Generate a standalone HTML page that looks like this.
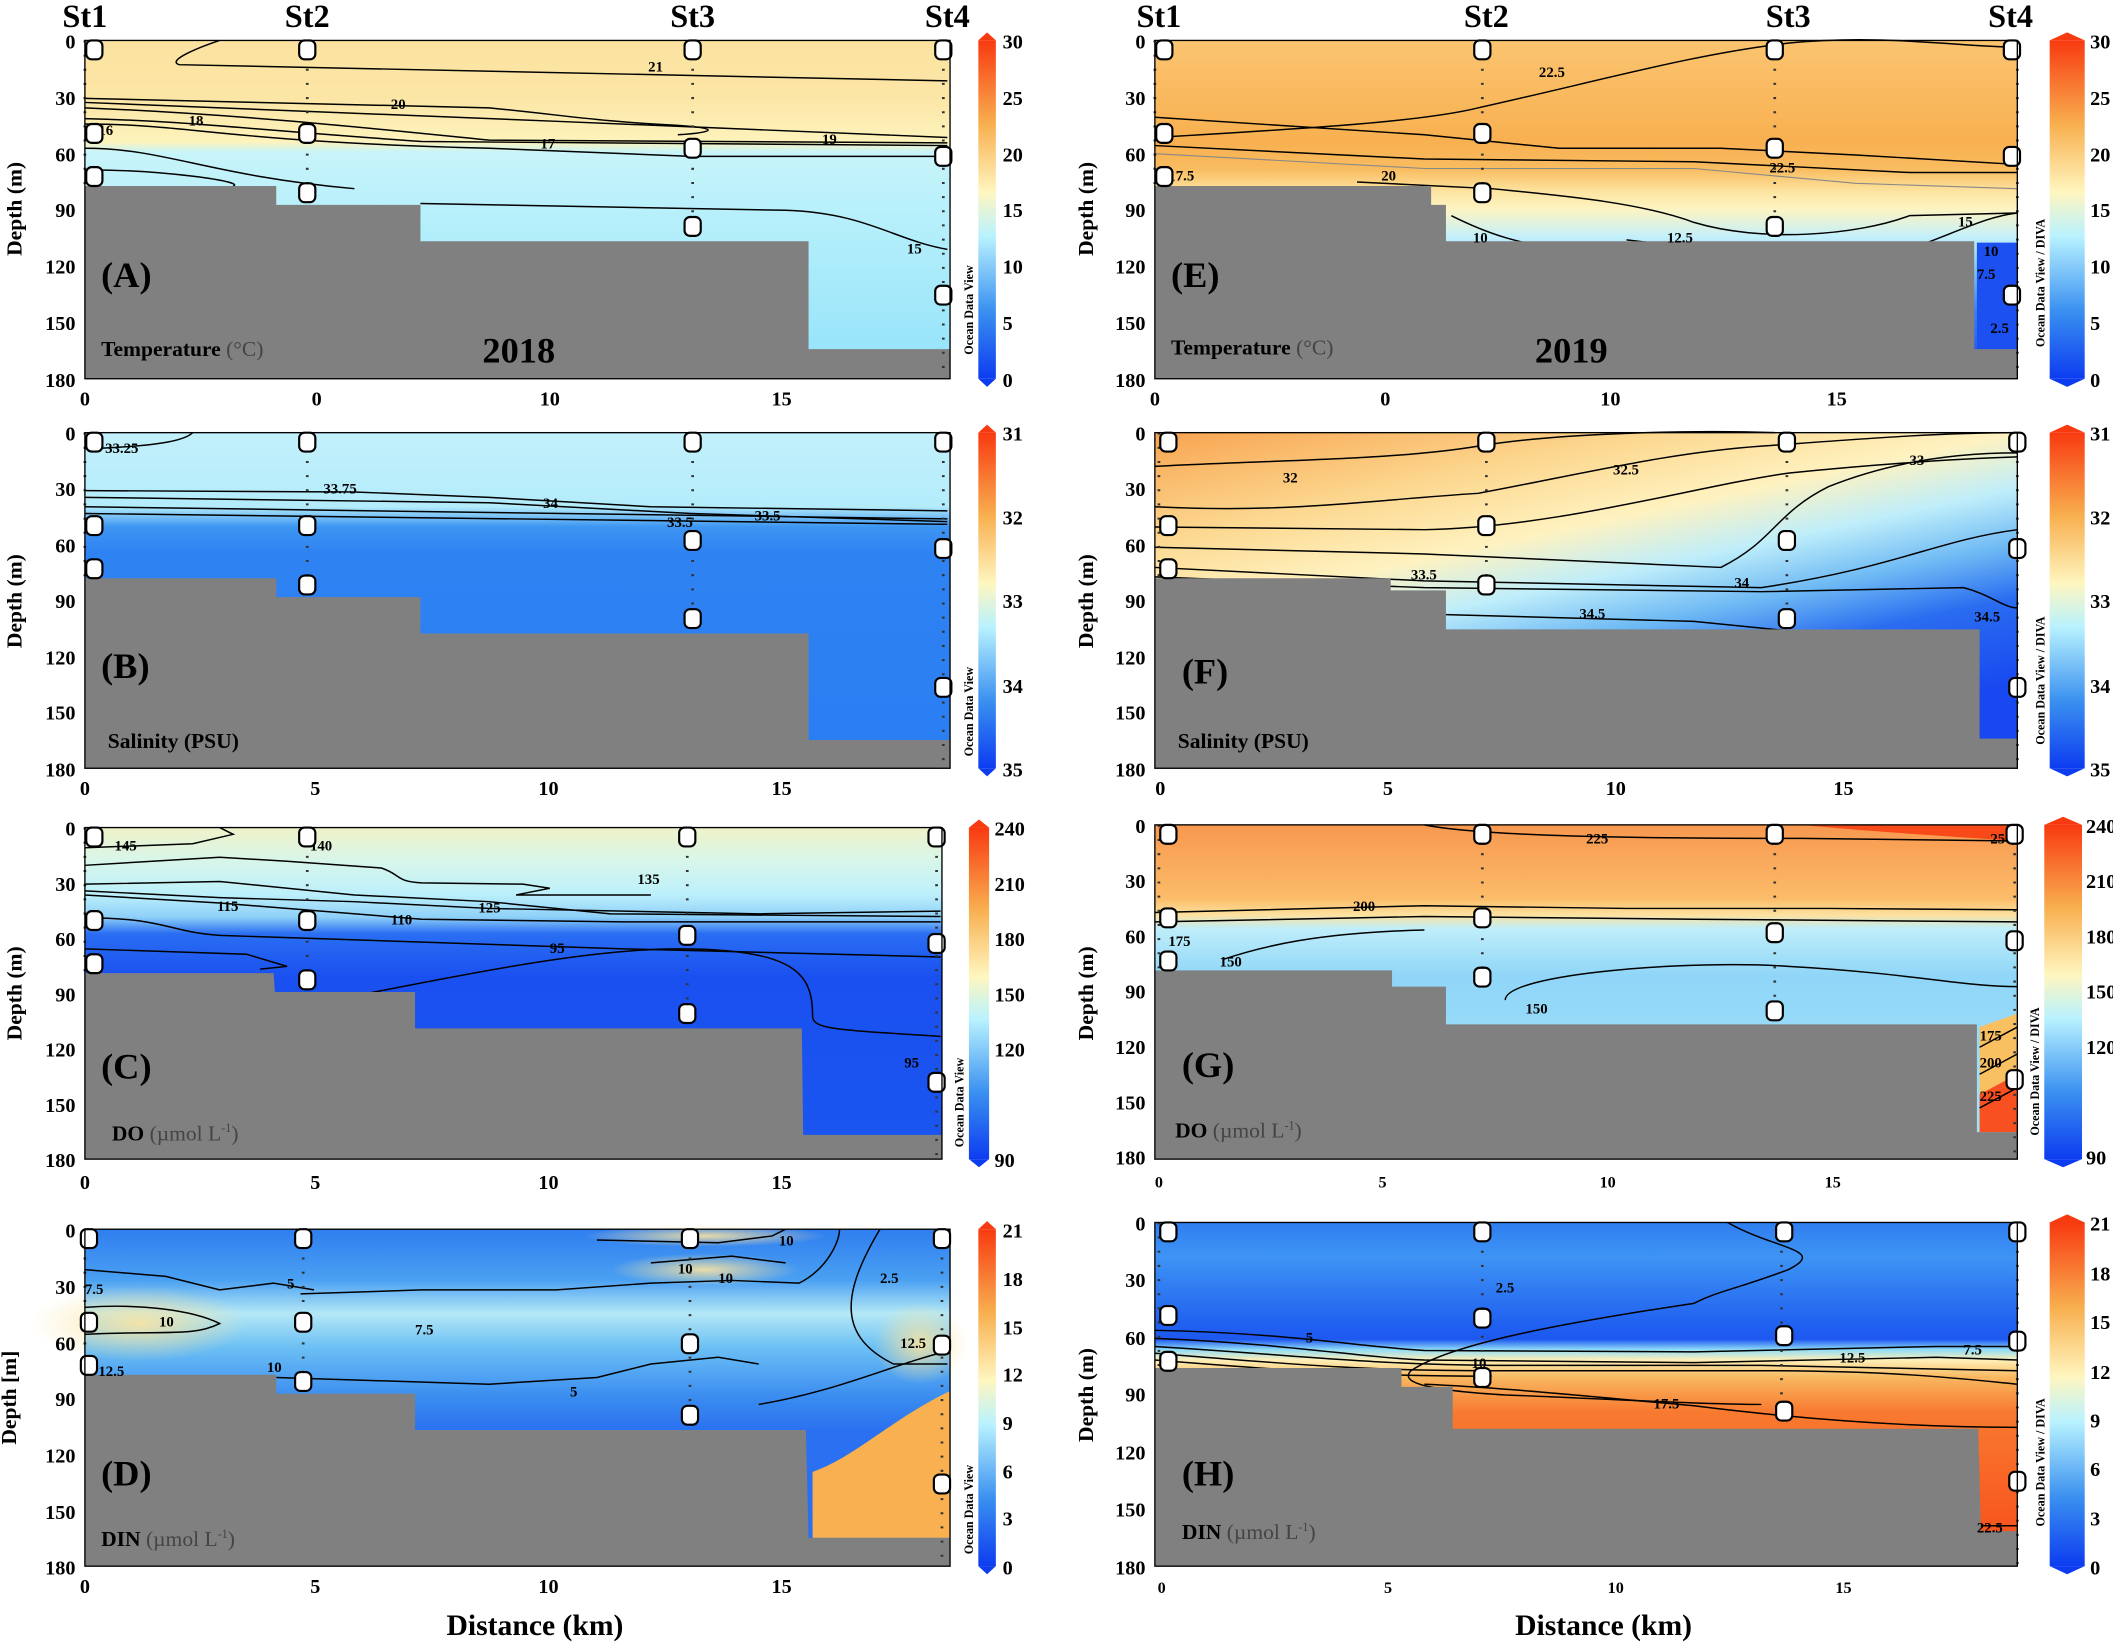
<!DOCTYPE html>
<html><head><meta charset="utf-8"><style>
html,body{margin:0;padding:0;background:#fff;}
svg{display:block;}
text{font-family:"Liberation Serif",serif;font-weight:bold;}
.t{font-size:15px;}
.st{font-size:24px;}
.pl{font-size:27px;}
.nm{font-size:16px;}
.ct{font-size:11px;}
.odv{font-size:9px;font-family:"Liberation Serif",serif;}
.c{fill:none;stroke:#000;stroke-width:1.1;}
.m{fill:#fff;stroke:#000;stroke-width:1.6;}
.d{stroke:#333;stroke-width:2;stroke-dasharray:1.5 9;}
.g{fill:#808080;}
</style></head><body>
<svg width="2113" height="1643" viewBox="0 0 1568 1219" preserveAspectRatio="none" xmlns="http://www.w3.org/2000/svg">
<defs>
<linearGradient id="cb" x1="0" y1="1" x2="0" y2="0">
<stop offset="0" stop-color="#0d3cf0"/><stop offset="0.2" stop-color="#3a90f0"/><stop offset="0.42" stop-color="#b8f2ff"/><stop offset="0.55" stop-color="#fff6c0"/><stop offset="0.75" stop-color="#f8b050"/><stop offset="1" stop-color="#f83a10"/></linearGradient>
<linearGradient id="gA" x1="0" y1="0" x2="0" y2="1">
<stop offset="0" stop-color="#fbe2a0"/><stop offset="0.17" stop-color="#fce6a6"/><stop offset="0.3" stop-color="#fdf3bc"/><stop offset="0.33" stop-color="#c8f4fa"/><stop offset="0.5" stop-color="#b8f0fb"/><stop offset="1" stop-color="#92e2fa"/></linearGradient>
<linearGradient id="gB" x1="0" y1="0" x2="0" y2="1">
<stop offset="0" stop-color="#c2f0fb"/><stop offset="0.22" stop-color="#b4ecfb"/><stop offset="0.28" stop-color="#3e96f2"/><stop offset="0.36" stop-color="#2e82f2"/><stop offset="1" stop-color="#2a7ef2"/></linearGradient>
<linearGradient id="gC" x1="0" y1="0" x2="0" y2="1">
<stop offset="0" stop-color="#f0f2c8"/><stop offset="0.1" stop-color="#d8f6ea"/><stop offset="0.2" stop-color="#bdf0fb"/><stop offset="0.27" stop-color="#8ed0f8"/><stop offset="0.32" stop-color="#2a6ef2"/><stop offset="0.45" stop-color="#1a50f0"/><stop offset="1" stop-color="#1a56f0"/></linearGradient>
<linearGradient id="gD" x1="0" y1="0" x2="0" y2="1">
<stop offset="0" stop-color="#2f7ef0"/><stop offset="0.15" stop-color="#4aa0f2"/><stop offset="0.25" stop-color="#b4e8f6"/><stop offset="0.35" stop-color="#6cc0f4"/><stop offset="0.5" stop-color="#3a8cf0"/><stop offset="0.6" stop-color="#2a70f0"/><stop offset="1" stop-color="#2a70f0"/></linearGradient>
<linearGradient id="gE" x1="0" y1="0" x2="0" y2="1">
<stop offset="0" stop-color="#fbc470"/><stop offset="0.3" stop-color="#f8b050"/><stop offset="0.38" stop-color="#f9bc60"/><stop offset="0.45" stop-color="#fde6a4"/><stop offset="0.5" stop-color="#fdf4c4"/><stop offset="0.58" stop-color="#c4f0fb"/><stop offset="0.65" stop-color="#8ed6f8"/><stop offset="0.8" stop-color="#3a80f0"/><stop offset="1" stop-color="#1848f0"/></linearGradient>
<linearGradient id="gF" x1="0" y1="0" x2="0.55" y2="1">
<stop offset="0" stop-color="#f8a450"/><stop offset="0.25" stop-color="#fcd890"/><stop offset="0.42" stop-color="#fff2c0"/><stop offset="0.55" stop-color="#bfeefa"/><stop offset="0.68" stop-color="#6cb8f4"/><stop offset="0.8" stop-color="#2a6cf0"/><stop offset="1" stop-color="#1848f0"/></linearGradient>
<linearGradient id="gG" x1="0" y1="0" x2="0" y2="1">
<stop offset="0" stop-color="#f89850"/><stop offset="0.15" stop-color="#fab060"/><stop offset="0.22" stop-color="#fbbc68"/><stop offset="0.27" stop-color="#fde2a0"/><stop offset="0.31" stop-color="#bfeefa"/><stop offset="0.45" stop-color="#90d6f8"/><stop offset="1" stop-color="#a8e4fa"/></linearGradient>
<linearGradient id="gH" x1="0" y1="0" x2="0" y2="1">
<stop offset="0" stop-color="#2f7ef0"/><stop offset="0.1" stop-color="#3e94f4"/><stop offset="0.3" stop-color="#2060f0"/><stop offset="0.34" stop-color="#1d58f0"/><stop offset="0.37" stop-color="#90dcf8"/><stop offset="0.4" stop-color="#fff0b8"/><stop offset="0.45" stop-color="#f8b860"/><stop offset="0.55" stop-color="#f87a30"/><stop offset="1" stop-color="#f84a18"/></linearGradient>
<radialGradient id="blob"><stop offset="0" stop-color="#fbe4a0" stop-opacity="0.9"/><stop offset="1" stop-color="#fbe4a0" stop-opacity="0"/></radialGradient>
</defs>

<text class="st" x="63" y="20" text-anchor="middle">St1</text>
<text class="st" x="228" y="20" text-anchor="middle">St2</text>
<text class="st" x="514" y="20" text-anchor="middle">St3</text>
<text class="st" x="703" y="20" text-anchor="middle">St4</text>
<text class="st" x="860" y="20" text-anchor="middle">St1</text>
<text class="st" x="1103" y="20" text-anchor="middle">St2</text>
<text class="st" x="1327" y="20" text-anchor="middle">St3</text>
<text class="st" x="1492" y="20" text-anchor="middle">St4</text>

<!-- A -->
<g transform="translate(63,30)">
<rect width="642" height="251" fill="url(#gA)"/>
<path class="c" d="M100,0 C85,5 60,15 70,18 L640,30"/>
<path class="c" d="M0,43 L300,50 C360,56 380,60 440,63 C470,65 470,68 440,70"/>
<path class="c" d="M0,46 L350,60 L640,72"/>
<path class="c" d="M0,50 C120,55 220,66 300,74 L640,76"/>
<path class="c" d="M0,58 C80,60 120,66 250,75 L640,78"/>
<path class="c" d="M0,62 C80,62 100,75 300,80 L450,86 L640,86"/>
<path class="c" d="M0,80 C60,80 90,100 200,110"/>
<path class="c" d="M0,96 C60,96 120,105 110,108"/>
<path class="c" d="M249,121 L520,126 C580,128 600,148 640,155"/>
<polygon class="g" points="0,108 142,108 142,122 249,122 249,149 537,149 537,229 642,229 642,251 0,251"/>
<text class="ct" x="418" y="23">21</text><text class="ct" x="227" y="51">20</text>
<text class="ct" x="77" y="63">18</text><text class="ct" x="10" y="70">16</text>
<text class="ct" x="338" y="80">17</text><text class="ct" x="547" y="77">19</text>
<text class="ct" x="610" y="158">15</text>
<line class="d" x1="0" y1="0" x2="0" y2="110"/><line class="d" x1="165" y1="0" x2="165" y2="118"/><line class="d" x1="451" y1="0" x2="451" y2="145"/><line class="d" x1="637" y1="0" x2="637" y2="251"/>
<rect class="m" x="1" y="0" width="12" height="14" rx="4"/><rect class="m" x="159" y="0" width="12" height="14" rx="4"/><rect class="m" x="445" y="0" width="12" height="14" rx="4"/><rect class="m" x="631" y="0" width="12" height="14" rx="4"/>
<rect class="m" x="1" y="62" width="12" height="14" rx="4"/><rect class="m" x="159" y="62" width="12" height="14" rx="4"/><rect class="m" x="445" y="73" width="12" height="14" rx="4"/><rect class="m" x="631" y="79" width="12" height="14" rx="4"/>
<rect class="m" x="1" y="94" width="12" height="14" rx="4"/><rect class="m" x="159" y="106" width="12" height="14" rx="4"/><rect class="m" x="445" y="131" width="12" height="14" rx="4"/><rect class="m" x="631" y="182" width="12" height="14" rx="4"/>
<rect width="642" height="251" fill="none" stroke="#000" stroke-width="1"/>
<text class="pl" x="12" y="183">(A)</text>
<text class="nm" x="12" y="234">Temperature <tspan fill="#444" font-weight="normal">(°C)</tspan></text>
<text x="295" y="239" style="font-size:27px">2018</text>
</g>

<!-- B -->
<g transform="translate(63,321)">
<rect width="642" height="249" fill="url(#gB)"/>
<path class="c" d="M80,0 C75,5 60,10 0,12"/>
<path class="c" d="M0,43 L200,44 L300,48 L420,55 L640,58"/>
<path class="c" d="M0,48 L300,52 L450,60 L640,66"/>
<path class="c" d="M0,55 L640,64"/>
<path class="c" d="M0,60 L640,68"/>
<polygon class="g" points="0,108 142,108 142,122 249,122 249,149 537,149 537,228 642,228 642,249 0,249"/>
<text class="ct" x="15" y="15">33.25</text><text class="ct" x="177" y="45">33.75</text>
<text class="ct" x="340" y="56">34</text><text class="ct" x="432" y="70">33.5</text><text class="ct" x="497" y="65">33.5</text>
<line class="d" x1="0" y1="0" x2="0" y2="110"/><line class="d" x1="165" y1="0" x2="165" y2="118"/><line class="d" x1="451" y1="0" x2="451" y2="145"/><line class="d" x1="637" y1="0" x2="637" y2="249"/>
<rect class="m" x="1" y="0" width="12" height="14" rx="4"/><rect class="m" x="159" y="0" width="12" height="14" rx="4"/><rect class="m" x="445" y="0" width="12" height="14" rx="4"/><rect class="m" x="631" y="0" width="12" height="14" rx="4"/>
<rect class="m" x="1" y="62" width="12" height="14" rx="4"/><rect class="m" x="159" y="62" width="12" height="14" rx="4"/><rect class="m" x="445" y="73" width="12" height="14" rx="4"/><rect class="m" x="631" y="79" width="12" height="14" rx="4"/>
<rect class="m" x="1" y="94" width="12" height="14" rx="4"/><rect class="m" x="159" y="106" width="12" height="14" rx="4"/><rect class="m" x="445" y="131" width="12" height="14" rx="4"/><rect class="m" x="631" y="182" width="12" height="14" rx="4"/>
<rect width="642" height="249" fill="none" stroke="#000"/>
<text class="pl" x="12" y="182">(B)</text>
<text class="nm" x="17" y="234">Salinity (PSU)</text>
</g>

<!-- C -->
<g transform="translate(63,614)">
<rect width="636" height="246" fill="url(#gC)"/>
<path class="c" d="M0,15 L80,12 L110,5 L100,0"/>
<path class="c" d="M0,28 L100,22 L150,25 L220,30 C235,35 230,40 250,41 L325,42 L345,45 L320,50 L420,50"/>
<path class="c" d="M0,42 L100,40 L200,50 L300,55 L390,64 L635,66"/>
<path class="c" d="M0,47 L100,52 L200,55 L300,60 L500,64 L635,62"/>
<path class="c" d="M0,50 L100,56 L250,68 L400,70 L635,70"/>
<path class="c" d="M0,67 C60,67 60,77 100,80 L400,90 L635,96"/>
<path class="c" d="M0,90 L120,94 L150,103 L130,105"/>
<path class="c" d="M200,125 C300,105 380,90 440,90 C530,90 540,110 540,140 C540,150 560,150 635,155"/>
<polygon class="g" points="0,108 140,108 141,122 245,122 245,149 532,149 533,228 636,228 636,246 0,246"/>
<text class="ct" x="22" y="17">145</text><text class="ct" x="167" y="17">140</text><text class="ct" x="410" y="42">135</text>
<text class="ct" x="98" y="62">115</text><text class="ct" x="227" y="72">110</text><text class="ct" x="292" y="63">125</text>
<text class="ct" x="345" y="93">95</text><text class="ct" x="608" y="178">95</text>
<line class="d" x1="0" y1="0" x2="0" y2="110"/><line class="d" x1="165" y1="0" x2="165" y2="118"/><line class="d" x1="447" y1="0" x2="447" y2="145"/><line class="d" x1="632" y1="0" x2="632" y2="246"/>
<rect class="m" x="1" y="0" width="12" height="14" rx="4"/><rect class="m" x="159" y="0" width="12" height="14" rx="4"/><rect class="m" x="441" y="0" width="12" height="14" rx="4"/><rect class="m" x="626" y="0" width="12" height="14" rx="4"/>
<rect class="m" x="1" y="62" width="12" height="14" rx="4"/><rect class="m" x="159" y="62" width="12" height="14" rx="4"/><rect class="m" x="441" y="73" width="12" height="14" rx="4"/><rect class="m" x="626" y="79" width="12" height="14" rx="4"/>
<rect class="m" x="1" y="94" width="12" height="14" rx="4"/><rect class="m" x="159" y="106" width="12" height="14" rx="4"/><rect class="m" x="441" y="131" width="12" height="14" rx="4"/><rect class="m" x="626" y="182" width="12" height="14" rx="4"/>
<rect width="636" height="246" fill="none" stroke="#000"/>
<text class="pl" x="12" y="186">(C)</text>
<text class="nm" x="20" y="232">DO <tspan fill="#444" font-weight="normal">(µmol L<tspan dy="-6" font-size="9">-1</tspan><tspan dy="6">)</tspan></tspan></text>
</g>

<!-- D -->
<g transform="translate(63,912)">
<rect width="642" height="250" fill="url(#gD)"/>
<ellipse cx="40" cy="70" rx="80" ry="28" fill="url(#blob)"/>
<ellipse cx="460" cy="30" rx="70" ry="12" fill="url(#blob)"/>
<ellipse cx="460" cy="5" rx="90" ry="8" fill="url(#blob)"/>
<ellipse cx="620" cy="85" rx="35" ry="30" fill="url(#blob)"/>
<path d="M540,180 C570,170 600,140 642,120 L642,229 L540,229 Z" fill="#f8b050"/>
<path class="c" d="M0,30 L60,35 L100,45 L140,40 L170,45"/>
<path class="c" d="M0,58 C40,55 80,60 100,70 C80,80 60,75 0,78"/>
<path class="c" d="M160,48 L250,45 L350,45 L420,40 L480,38 L530,40 C550,30 560,10 560,0"/>
<path class="c" d="M380,8 L470,10 L510,5 L520,0"/>
<path class="c" d="M420,25 L480,20 L520,25"/>
<path class="c" d="M590,0 C560,50 560,80 600,100 L640,100"/>
<path class="c" d="M142,110 L300,115 L380,110 L420,100 L470,95 L500,100"/>
<path class="c" d="M500,130 C560,120 600,100 642,90"/>
<polygon class="g" points="0,108 142,108 142,122 245,122 245,149 535,149 537,229 642,229 642,250 0,250"/>
<text class="ct" x="150" y="44">5</text><text class="ct" x="0" y="48">7.5</text><text class="ct" x="55" y="72">10</text>
<text class="ct" x="245" y="78">7.5</text><text class="ct" x="515" y="12">10</text><text class="ct" x="470" y="40">10</text>
<text class="ct" x="440" y="33">10</text><text class="ct" x="590" y="40">2.5</text><text class="ct" x="605" y="88">12.5</text>
<text class="ct" x="10" y="109">12.5</text><text class="ct" x="135" y="106">10</text><text class="ct" x="360" y="124">5</text>
<line class="d" x1="0" y1="0" x2="0" y2="110"/><line class="d" x1="162" y1="0" x2="162" y2="118"/><line class="d" x1="449" y1="0" x2="449" y2="145"/><line class="d" x1="636" y1="0" x2="636" y2="250"/>
<rect class="m" x="-3" y="0" width="12" height="14" rx="4"/><rect class="m" x="156" y="0" width="12" height="14" rx="4"/><rect class="m" x="443" y="0" width="12" height="14" rx="4"/><rect class="m" x="630" y="0" width="12" height="14" rx="4"/>
<rect class="m" x="-3" y="62" width="12" height="14" rx="4"/><rect class="m" x="156" y="62" width="12" height="14" rx="4"/><rect class="m" x="443" y="78" width="12" height="14" rx="4"/><rect class="m" x="630" y="79" width="12" height="14" rx="4"/>
<rect class="m" x="-3" y="94" width="12" height="14" rx="4"/><rect class="m" x="156" y="106" width="12" height="14" rx="4"/><rect class="m" x="443" y="131" width="12" height="14" rx="4"/><rect class="m" x="630" y="182" width="12" height="14" rx="4"/>
<rect width="642" height="250" fill="none" stroke="#000"/>
<text class="pl" x="12" y="190">(D)</text>
<text class="nm" x="12" y="235">DIN <tspan fill="#444" font-weight="normal">(µmol L<tspan dy="-6" font-size="9">-1</tspan><tspan dy="6">)</tspan></tspan></text>
</g>

<!-- E -->
<g transform="translate(857,30)">
<rect width="640" height="251" fill="url(#gE)"/>
<path d="M610,150 L640,150 L640,251 L610,251 Z" fill="#1d50f0"/>
<path class="c" d="M0,72 C120,65 200,60 240,50 C330,30 400,10 470,2 C540,-5 600,5 640,5"/>
<path class="c" d="M0,57 L200,70 L300,80 L420,80 L520,85 L640,92"/>
<path class="c" d="M0,78 L200,88 L400,90 L560,98 L640,98"/>
<path d="M0,84 L200,95 L400,95 L520,106 L640,110" stroke="#888" stroke-width="0.8" fill="none"/>
<path class="c" d="M150,105 L250,110 C300,115 360,120 400,135 C450,150 520,145 560,130 L640,128"/>
<path class="c" d="M220,130 C250,145 270,150 300,155"/>
<path class="c" d="M350,148 L420,156"/>
<path class="c" d="M560,155 C600,140 620,130 640,128"/>
<polygon class="g" points="0,108 205,108 205,122 216,122 216,149 608,149 608,229 640,229 640,251 0,251"/>
<text class="ct" x="285" y="27">22.5</text><text class="ct" x="456" y="98">22.5</text>
<text class="ct" x="168" y="104">20</text><text class="ct" x="10" y="104">17.5</text><text class="ct" x="596" y="138">15</text>
<text class="ct" x="236" y="150">10</text><text class="ct" x="380" y="150">12.5</text>
<text class="ct" x="615" y="160">10</text><text class="ct" x="610" y="177">7.5</text><text class="ct" x="620" y="217">2.5</text>
<line class="d" x1="0" y1="0" x2="0" y2="110"/><line class="d" x1="243" y1="0" x2="243" y2="118"/><line class="d" x1="460" y1="0" x2="460" y2="145"/><line class="d" x1="640" y1="0" x2="640" y2="251"/>
<rect class="m" x="1" y="0" width="12" height="14" rx="4"/><rect class="m" x="237" y="0" width="12" height="14" rx="4"/><rect class="m" x="454" y="0" width="12" height="14" rx="4"/><rect class="m" x="630" y="0" width="12" height="14" rx="4"/>
<rect class="m" x="1" y="62" width="12" height="14" rx="4"/><rect class="m" x="237" y="62" width="12" height="14" rx="4"/><rect class="m" x="454" y="73" width="12" height="14" rx="4"/><rect class="m" x="630" y="79" width="12" height="14" rx="4"/>
<rect class="m" x="1" y="94" width="12" height="14" rx="4"/><rect class="m" x="237" y="106" width="12" height="14" rx="4"/><rect class="m" x="454" y="131" width="12" height="14" rx="4"/><rect class="m" x="630" y="182" width="12" height="14" rx="4"/>
<rect width="640" height="251" fill="none" stroke="#000"/>
<text class="pl" x="12" y="183">(E)</text>
<text class="nm" x="12" y="233">Temperature <tspan fill="#444" font-weight="normal">(°C)</tspan></text>
<text x="282" y="239" style="font-size:27px">2019</text>
</g>

<!-- F -->
<g transform="translate(857,321)">
<rect width="640" height="249" fill="url(#gF)"/>
<path class="c" d="M0,25 C100,20 180,20 240,10 C300,0 400,-2 460,0"/>
<path class="c" d="M0,55 C100,60 160,50 240,45 C320,30 380,15 450,10 C520,5 580,0 640,0"/>
<path class="c" d="M0,70 L200,72 C300,70 400,40 470,30 C520,25 580,20 640,18"/>
<path class="c" d="M0,85 L200,90 L420,100 C460,80 460,60 500,40 C550,20 600,15 640,15"/>
<path class="c" d="M0,100 L200,110 L450,115 C550,100 580,80 640,72"/>
<path class="c" d="M0,107 L200,115 L450,118 L600,115 C620,120 630,130 640,130"/>
<path class="c" d="M216,135 L400,140 L500,150"/>
<polygon class="g" points="0,108 175,108 175,117 216,117 216,146 612,146 612,227 640,227 640,249 0,249"/>
<text class="ct" x="95" y="37">32</text><text class="ct" x="340" y="31">32.5</text><text class="ct" x="560" y="24">33</text>
<text class="ct" x="190" y="109">33.5</text><text class="ct" x="430" y="115">34</text><text class="ct" x="315" y="138">34.5</text>
<text class="ct" x="608" y="140">34.5</text>
<line class="d" x1="3" y1="0" x2="3" y2="110"/><line class="d" x1="246" y1="0" x2="246" y2="118"/><line class="d" x1="469" y1="0" x2="469" y2="145"/><line class="d" x1="640" y1="0" x2="640" y2="249"/>
<rect class="m" x="4" y="0" width="12" height="14" rx="4"/><rect class="m" x="240" y="0" width="12" height="14" rx="4"/><rect class="m" x="463" y="0" width="12" height="14" rx="4"/><rect class="m" x="634" y="0" width="12" height="14" rx="4"/>
<rect class="m" x="4" y="62" width="12" height="14" rx="4"/><rect class="m" x="240" y="62" width="12" height="14" rx="4"/><rect class="m" x="463" y="73" width="12" height="14" rx="4"/><rect class="m" x="634" y="79" width="12" height="14" rx="4"/>
<rect class="m" x="4" y="94" width="12" height="14" rx="4"/><rect class="m" x="240" y="106" width="12" height="14" rx="4"/><rect class="m" x="463" y="131" width="12" height="14" rx="4"/><rect class="m" x="634" y="182" width="12" height="14" rx="4"/>
<rect width="640" height="249" fill="none" stroke="#000"/>
<text class="pl" x="20" y="186">(F)</text>
<text class="nm" x="17" y="234">Salinity (PSU)</text>
</g>

<!-- G -->
<g transform="translate(857,612)">
<rect width="640" height="248" fill="url(#gG)"/>
<path d="M480,0 L640,0 L640,12 C580,8 520,4 480,0 Z" fill="#f84a18"/>
<path d="M612,150 L640,140 L640,228 L612,228 Z" fill="#f8c060"/>
<path d="M612,200 L640,185 L640,228 L612,228 Z" fill="#f85020"/>
<path class="c" d="M200,0 C250,10 400,10 480,10 L640,12"/>
<path class="c" d="M0,65 L200,60 L350,62 L500,62 L640,63"/>
<path class="c" d="M0,72 L200,68 L400,70 L640,72"/>
<path class="c" d="M50,100 C80,90 120,80 200,78"/>
<path class="c" d="M260,130 C260,110 400,100 470,105 C560,110 600,120 640,120"/>
<path class="c" d="M612,165 L640,150"/>
<path class="c" d="M612,185 L640,170"/>
<path class="c" d="M612,210 L640,195"/>
<polygon class="g" points="0,108 176,108 176,120 216,120 216,148 610,148 610,228 640,228 640,248 0,248"/>
<text class="ct" x="320" y="14">225</text><text class="ct" x="620" y="14">250</text><text class="ct" x="147" y="64">200</text>
<text class="ct" x="10" y="90">175</text><text class="ct" x="48" y="105">150</text><text class="ct" x="275" y="140">150</text>
<text class="ct" x="612" y="160">175</text><text class="ct" x="612" y="180">200</text><text class="ct" x="612" y="205">225</text>
<line class="d" x1="3" y1="0" x2="3" y2="110"/><line class="d" x1="243" y1="0" x2="243" y2="118"/><line class="d" x1="460" y1="0" x2="460" y2="145"/><line class="d" x1="638" y1="0" x2="638" y2="248"/>
<rect class="m" x="4" y="0" width="12" height="14" rx="4"/><rect class="m" x="237" y="0" width="12" height="14" rx="4"/><rect class="m" x="454" y="0" width="12" height="14" rx="4"/><rect class="m" x="632" y="0" width="12" height="14" rx="4"/>
<rect class="m" x="4" y="62" width="12" height="14" rx="4"/><rect class="m" x="237" y="62" width="12" height="14" rx="4"/><rect class="m" x="454" y="73" width="12" height="14" rx="4"/><rect class="m" x="632" y="79" width="12" height="14" rx="4"/>
<rect class="m" x="4" y="94" width="12" height="14" rx="4"/><rect class="m" x="237" y="106" width="12" height="14" rx="4"/><rect class="m" x="454" y="131" width="12" height="14" rx="4"/><rect class="m" x="632" y="182" width="12" height="14" rx="4"/>
<rect width="640" height="248" fill="none" stroke="#000"/>
<text class="pl" x="20" y="187">(G)</text>
<text class="nm" x="15" y="232">DO <tspan fill="#444" font-weight="normal">(µmol L<tspan dy="-6" font-size="9">-1</tspan><tspan dy="6">)</tspan></tspan></text>
</g>

<!-- H -->
<g transform="translate(857,907)">
<rect width="640" height="255" fill="url(#gH)"/>
<path class="c" d="M425,0 C460,20 500,20 470,35 C430,50 420,50 400,60 C300,75 220,90 190,110 C180,120 210,125 260,128 C320,130 400,135 450,135"/>
<path class="c" d="M0,80 C100,82 150,92 200,95 L400,96 L580,92 L640,92"/>
<path class="c" d="M0,86 C100,90 150,100 200,102 L400,104 L580,100 L640,102"/>
<path class="c" d="M0,92 C100,98 150,105 250,106 L450,106 L640,110"/>
<path class="c" d="M0,97 C100,105 150,110 250,110 L450,110 C550,110 600,116 640,120"/>
<path class="c" d="M0,102 C100,110 150,114 250,114"/>
<path class="c" d="M200,120 C250,122 300,127 400,136 C480,146 560,152 640,152"/>
<path class="c" d="M612,225 L640,225"/>
<polygon class="g" points="0,108 183,108 183,122 221,122 221,153 611,153 613,229 640,229 640,255 0,255"/>
<text class="ct" x="253" y="52">2.5</text><text class="ct" x="112" y="89">5</text><text class="ct" x="508" y="104">12.5</text>
<text class="ct" x="600" y="98">7.5</text><text class="ct" x="235" y="108">10</text><text class="ct" x="370" y="138">17.5</text>
<text class="ct" x="610" y="230">22.5</text>
<line class="d" x1="3" y1="0" x2="3" y2="110"/><line class="d" x1="243" y1="0" x2="243" y2="118"/><line class="d" x1="465" y1="0" x2="465" y2="145"/><line class="d" x1="640" y1="0" x2="640" y2="255"/>
<rect class="m" x="4" y="0" width="12" height="14" rx="4"/><rect class="m" x="237" y="0" width="12" height="14" rx="4"/><rect class="m" x="461" y="0" width="12" height="14" rx="4"/><rect class="m" x="634" y="0" width="12" height="14" rx="4"/>
<rect class="m" x="4" y="62" width="12" height="14" rx="4"/><rect class="m" x="237" y="64" width="12" height="14" rx="4"/><rect class="m" x="461" y="77" width="12" height="14" rx="4"/><rect class="m" x="634" y="81" width="12" height="14" rx="4"/>
<rect class="m" x="4" y="96" width="12" height="14" rx="4"/><rect class="m" x="237" y="108" width="12" height="14" rx="4"/><rect class="m" x="461" y="133" width="12" height="14" rx="4"/><rect class="m" x="634" y="185" width="12" height="14" rx="4"/>
<rect width="640" height="255" fill="none" stroke="#000"/>
<text class="pl" x="20" y="195">(H)</text>
<text class="nm" x="20" y="235">DIN <tspan fill="#444" font-weight="normal">(µmol L<tspan dy="-6" font-size="9">-1</tspan><tspan dy="6">)</tspan></tspan></text>
</g>

<g class="t" text-anchor="end">
<text x="56" y="36">0</text><text x="56" y="78">30</text><text x="56" y="120">60</text><text x="56" y="161">90</text><text x="56" y="203">120</text><text x="56" y="245">150</text><text x="56" y="287">180</text>
<text x="56" y="327">0</text><text x="56" y="368">30</text><text x="56" y="410">60</text><text x="56" y="451">90</text><text x="56" y="493">120</text><text x="56" y="534">150</text><text x="56" y="576">180</text>
<text x="56" y="620">0</text><text x="56" y="661">30</text><text x="56" y="702">60</text><text x="56" y="743">90</text><text x="56" y="784">120</text><text x="56" y="825">150</text><text x="56" y="866">180</text>
<text x="56" y="918">0</text><text x="56" y="960">30</text><text x="56" y="1002">60</text><text x="56" y="1043">90</text><text x="56" y="1085">120</text><text x="56" y="1127">150</text><text x="56" y="1168">180</text>
<text x="850" y="36">0</text><text x="850" y="78">30</text><text x="850" y="120">60</text><text x="850" y="161">90</text><text x="850" y="203">120</text><text x="850" y="245">150</text><text x="850" y="287">180</text>
<text x="850" y="327">0</text><text x="850" y="368">30</text><text x="850" y="410">60</text><text x="850" y="451">90</text><text x="850" y="493">120</text><text x="850" y="534">150</text><text x="850" y="576">180</text>
<text x="850" y="618">0</text><text x="850" y="659">30</text><text x="850" y="700">60</text><text x="850" y="741">90</text><text x="850" y="782">120</text><text x="850" y="823">150</text><text x="850" y="864">180</text>
<text x="850" y="913">0</text><text x="850" y="955">30</text><text x="850" y="998">60</text><text x="850" y="1040">90</text><text x="850" y="1083">120</text><text x="850" y="1125">150</text><text x="850" y="1168">180</text>
</g>
<g style="font-size:16px" text-anchor="middle">
<text transform="translate(16,155) rotate(-90)">Depth (m)</text>
<text transform="translate(16,446) rotate(-90)">Depth (m)</text>
<text transform="translate(16,737) rotate(-90)">Depth (m)</text>
<text transform="translate(12,1037) rotate(-90)">Depth [m]</text>
<text transform="translate(811,155) rotate(-90)">Depth (m)</text>
<text transform="translate(811,446) rotate(-90)">Depth (m)</text>
<text transform="translate(811,737) rotate(-90)">Depth (m)</text>
<text transform="translate(811,1035) rotate(-90)">Depth (m)</text>
</g>

<g class="t" text-anchor="middle">
<text x="63" y="301">0</text><text x="235" y="301">0</text><text x="408" y="301">10</text><text x="580" y="301">15</text>
<text x="63" y="590">0</text><text x="234" y="590">5</text><text x="407" y="590">10</text><text x="580" y="590">15</text>
<text x="63" y="882">0</text><text x="234" y="882">5</text><text x="407" y="882">10</text><text x="580" y="882">15</text>
<text x="63" y="1182">0</text><text x="234" y="1182">5</text><text x="407" y="1182">10</text><text x="580" y="1182">15</text>
<text x="857" y="301">0</text><text x="1028" y="301">0</text><text x="1195" y="301">10</text><text x="1363" y="301">15</text>
<text x="861" y="590">0</text><text x="1030" y="590">5</text><text x="1199" y="590">10</text><text x="1368" y="590">15</text>
</g>
<g style="font-size:12px" text-anchor="middle">
<text x="860" y="881">0</text><text x="1026" y="881">5</text><text x="1193" y="881">10</text><text x="1360" y="881">15</text>
<text x="862" y="1182">0</text><text x="1030" y="1182">5</text><text x="1199" y="1182">10</text><text x="1368" y="1182">15</text>
</g>
<text x="397" y="1213" text-anchor="middle" style="font-size:22px">Distance (km)</text>
<text x="1190" y="1213" text-anchor="middle" style="font-size:22px">Distance (km)</text>

<g>
<rect x="726" y="30" width="13" height="251" fill="url(#cb)"/><path d="M726,30 L732.5,24 L739,30Z" fill="#f83a10"/><path d="M726,281 L732.5,287 L739,281Z" fill="#0d3cf0"/>
<rect x="726" y="321" width="13" height="249" fill="url(#cb)"/><path d="M726,321 L732.5,315 L739,321Z" fill="#f83a10"/><path d="M726,570 L732.5,576 L739,570Z" fill="#0d3cf0"/>
<rect x="719" y="614" width="15" height="246" fill="url(#cb)"/><path d="M719,614 L726.5,608 L734,614Z" fill="#f83a10"/><path d="M719,860 L726.5,866 L734,860Z" fill="#0d3cf0"/>
<rect x="726" y="912" width="13" height="250" fill="url(#cb)"/><path d="M726,912 L732.5,906 L739,912Z" fill="#f83a10"/><path d="M726,1162 L732.5,1168 L739,1162Z" fill="#0d3cf0"/>
<rect x="1521" y="30" width="26" height="251" fill="url(#cb)"/><path d="M1521,30 L1534,24 L1547,30Z" fill="#f83a10"/><path d="M1521,281 L1534,287 L1547,281Z" fill="#0d3cf0"/>
<rect x="1521" y="321" width="26" height="249" fill="url(#cb)"/><path d="M1521,321 L1534,315 L1547,321Z" fill="#f83a10"/><path d="M1521,570 L1534,576 L1547,570Z" fill="#0d3cf0"/>
<rect x="1517" y="612" width="28" height="248" fill="url(#cb)"/><path d="M1517,612 L1531,606 L1545,612Z" fill="#f83a10"/><path d="M1517,860 L1531,866 L1545,860Z" fill="#0d3cf0"/>
<rect x="1521" y="907" width="26" height="255" fill="url(#cb)"/><path d="M1521,907 L1534,901 L1547,907Z" fill="#f83a10"/><path d="M1521,1162 L1534,1168 L1547,1162Z" fill="#0d3cf0"/>
</g>
<g class="t">
<text x="744" y="36">30</text><text x="744" y="78">25</text><text x="744" y="120">20</text><text x="744" y="161">15</text><text x="744" y="203">10</text><text x="744" y="245">5</text><text x="744" y="287">0</text>
<text x="744" y="327">31</text><text x="744" y="389">32</text><text x="744" y="451">33</text><text x="744" y="514">34</text><text x="744" y="576">35</text>
<text x="738" y="620">240</text><text x="738" y="661">210</text><text x="738" y="702">180</text><text x="738" y="743">150</text><text x="738" y="784">120</text><text x="738" y="866">90</text>
<text x="744" y="918">21</text><text x="744" y="954">18</text><text x="744" y="990">15</text><text x="744" y="1025">12</text><text x="744" y="1061">9</text><text x="744" y="1097">6</text><text x="744" y="1132">3</text><text x="744" y="1168">0</text>
<text x="1551" y="36">30</text><text x="1551" y="78">25</text><text x="1551" y="120">20</text><text x="1551" y="161">15</text><text x="1551" y="203">10</text><text x="1551" y="245">5</text><text x="1551" y="287">0</text>
<text x="1551" y="327">31</text><text x="1551" y="389">32</text><text x="1551" y="451">33</text><text x="1551" y="514">34</text><text x="1551" y="576">35</text>
<text x="1548" y="618">240</text><text x="1548" y="659">210</text><text x="1548" y="700">180</text><text x="1548" y="741">150</text><text x="1548" y="782">120</text><text x="1548" y="864">90</text>
<text x="1551" y="913">21</text><text x="1551" y="950">18</text><text x="1551" y="986">15</text><text x="1551" y="1023">12</text><text x="1551" y="1059">9</text><text x="1551" y="1095">6</text><text x="1551" y="1132">3</text><text x="1551" y="1168">0</text>
</g>
<g class="odv" text-anchor="middle">
<text transform="translate(722,230) rotate(-90)">Ocean Data View</text>
<text transform="translate(722,528) rotate(-90)">Ocean Data View</text>
<text transform="translate(715,818) rotate(-90)">Ocean Data View</text>
<text transform="translate(722,1120) rotate(-90)">Ocean Data View</text>
<text transform="translate(1517,210) rotate(-90)">Ocean Data View / DIVA</text>
<text transform="translate(1517,505) rotate(-90)">Ocean Data View / DIVA</text>
<text transform="translate(1513,795) rotate(-90)">Ocean Data View / DIVA</text>
<text transform="translate(1517,1085) rotate(-90)">Ocean Data View / DIVA</text>
</g>
</svg>
</body></html>
